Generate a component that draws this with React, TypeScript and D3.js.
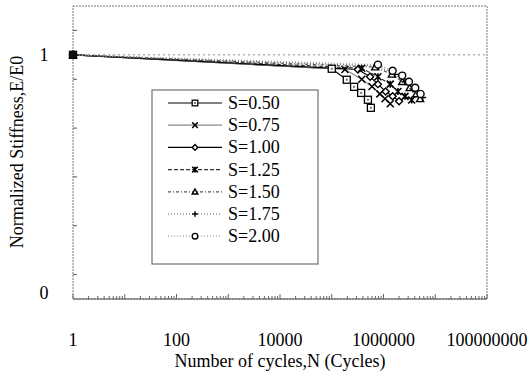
import { useEffect, useRef } from 'react';
import * as d3 from 'd3';

// stress levels and read-off points (N cycles, E/E0)
const labels = ['S=0.50', 'S=0.75', 'S=1.00', 'S=1.25', 'S=1.50', 'S=1.75', 'S=2.00'];

const n050 = [1, 1.0e5, 1.95e5, 2.7e5, 3.7e5, 5.0e5, 5.7e5];
const e050 = [1, 0.943, 0.898, 0.869, 0.844, 0.816, 0.783];
const n075 = [1, 1.8e5, 3.8e5, 6.0e5, 8.5e5, 1.07e6, 1.35e6];
const e075 = [1, 0.94, 0.9, 0.87, 0.84, 0.82, 0.8];
const n100 = [1, 3.2e5, 5.5e5, 7.8e5, 1.1e6, 1.5e6, 2.0e6];
const e100 = [1, 0.94, 0.91, 0.88, 0.85, 0.83, 0.81];
const n125 = [1, 3.8e5, 7.8e5, 1.35e6, 1.9e6, 2.6e6, 3.5e6];
const e125 = [1, 0.945, 0.91, 0.88, 0.85, 0.83, 0.815];
const n150 = [1, 6.9e5, 1.45e6, 2.3e6, 3.2e6, 4.3e6, 5.1e6];
const e150 = [1, 0.95, 0.92, 0.89, 0.865, 0.84, 0.82];
const n175 = [1, 7.8e5, 1.65e6, 2.6e6, 3.7e6, 4.9e6, 5.7e6];
const e175 = [1, 0.955, 0.92, 0.89, 0.86, 0.84, 0.825];
const n200 = [1, 7.8e5, 1.5e6, 2.3e6, 3.1e6, 4.1e6, 5.2e6];
const e200 = [1, 0.96, 0.935, 0.915, 0.89, 0.865, 0.84];

const xTicks = [1, 100, 10000, 1000000, 100000000];
const yTicks = [0, 1];

const seriesN = [n050, n075, n100, n125, n150, n175, n200];
const seriesE = [e050, e075, e100, e125, e150, e175, e200];
const markers = ['square', 'x', 'diamond', 'asterisk', 'triangle', 'plus', 'circle'];
const strokes = ['#000', '#888', '#000', '#333', '#555', '#666', '#999'];
const dashes = ['', '', '', '4,2', '3,2,1,2', '1,2', '1,2'];

const FONT = 'Liberation Serif, DejaVu Serif, serif';

function drawMarker(g: any, kind: string, x: number, y: number, s = 3.2) {
  if (kind === 'square') {
    g.append('rect').attr('x', x - s).attr('y', y - s).attr('width', 2 * s).attr('height', 2 * s)
      .attr('fill', '#fff').attr('stroke', '#000').attr('stroke-width', 1.3);
    g.append('rect').attr('x', x - 1).attr('y', y - 1).attr('width', 2).attr('height', 2).attr('fill', '#777');
  } else if (kind === 'x') {
    g.append('path').attr('d', `M${x - s},${y - s}L${x + s},${y + s}M${x - s},${y + s}L${x + s},${y - s}`)
      .attr('stroke', '#000').attr('stroke-width', 1.5);
  } else if (kind === 'diamond') {
    g.append('path').attr('d', `M${x},${y - s}L${x + s},${y}L${x},${y + s}L${x - s},${y}Z`)
      .attr('fill', '#fff').attr('stroke', '#000').attr('stroke-width', 1.4);
  } else if (kind === 'asterisk') {
    g.append('path').attr('d', `M${x - s},${y - s}L${x + s},${y + s}M${x - s},${y + s}L${x + s},${y - s}M${x},${y - s}L${x},${y + s}`)
      .attr('stroke', '#000').attr('stroke-width', 1.6);
  } else if (kind === 'triangle') {
    g.append('path').attr('d', `M${x},${y - s}L${x + s},${y + s * 0.8}L${x - s},${y + s * 0.8}Z`)
      .attr('fill', '#fff').attr('stroke', '#000').attr('stroke-width', 1.4);
  } else if (kind === 'plus') {
    g.append('path').attr('d', `M${x - s},${y}L${x + s},${y}M${x},${y - s}L${x},${y + s}`)
      .attr('stroke', '#000').attr('stroke-width', 1.4);
  } else {
    g.append('circle').attr('cx', x).attr('cy', y).attr('r', s)
      .attr('fill', '#fff').attr('stroke', '#000').attr('stroke-width', 1.4);
  }
}

export default function App() {
  const svgRef = useRef<SVGSVGElement>(null);

  useEffect(() => {
    const width = 531;
    const height = 383;
    const svg = d3.select(svgRef.current);
    svg.selectAll('*').remove();
    svg.attr('width', width).attr('height', height);

    const x = d3.scaleLog().domain([1, 1e8]).range([73, 487]);
    const y = d3.scaleLinear().domain([0, 1.2]).range([299, 6]);
    const [x0, x1] = x.range();
    const [y0, y1] = y.range();

    // plot frame, dotted like the original
    svg.append('rect').attr('x', x0).attr('y', y1).attr('width', x1 - x0).attr('height', y0 - y1)
      .attr('fill', 'none').attr('stroke', '#777').attr('stroke-width', 1).attr('stroke-dasharray', '2,1');
    svg.append('line').attr('x1', x0).attr('x2', x1).attr('y1', y0).attr('y2', y0)
      .attr('stroke', '#555').attr('stroke-width', 1);

    // gridline at 1
    svg.append('line').attr('x1', x0).attr('x2', x1).attr('y1', y(1)).attr('y2', y(1))
      .attr('stroke', '#888').attr('stroke-dasharray', '2,3');

    // y minor ticks
    const yMinor = d3.range(0.1, 1.15, 0.2);
    svg.selectAll('.ym').data(yMinor).join('line')
      .attr('x1', x0).attr('x2', x0 + 4).attr('y1', (d) => y(d)).attr('y2', (d) => y(d))
      .attr('stroke', '#555');

    // x log ticks
    const xMinor: number[] = [];
    for (let p = 0; p < 8; p++) for (let k = 1; k <= 9; k++) xMinor.push(k * Math.pow(10, p));
    xMinor.push(1e8);
    svg.selectAll('.xm').data(xMinor).join('line')
      .attr('x1', (d) => x(d)).attr('x2', (d) => x(d))
      .attr('y1', y0).attr('y2', (d) => (Math.log10(d) % 1 === 0 ? y0 - 5 : y0 - 3))
      .attr('stroke', '#666');

    svg.selectAll('.xl').data(xTicks).join('text')
      .attr('x', (d) => x(d)).attr('y', 346).attr('text-anchor', 'middle')
      .style('font-family', FONT).style('font-size', '18px').text((d) => String(d));

    svg.selectAll('.yl').data(yTicks).join('text')
      .attr('x', 44).attr('y', (d) => y(d) + (d === 0 ? 0 : 6)).attr('text-anchor', 'middle')
      .style('font-family', FONT).style('font-size', '18px').text((d) => String(d));

    svg.append('text').attr('x', 280).attr('y', 367).attr('text-anchor', 'middle')
      .style('font-family', FONT).style('font-size', '18px').text('Number of cycles,N (Cycles)');
    svg.append('text').attr('transform', 'translate(23,152) rotate(-90)').attr('text-anchor', 'middle')
      .style('font-family', FONT).style('font-size', '18px').text('Normalized Stiffness,E/E0');

    // series
    const line = d3.line<[number, number]>().x((d) => x(d[0])).y((d) => y(d[1]));
    seriesN.forEach((ns, i) => {
      const pts: [number, number][] = ns.map((n, j) => [n, seriesE[i][j]]);
      svg.append('path').attr('d', line(pts)).attr('fill', 'none')
        .attr('stroke', strokes[i]).attr('stroke-width', 1.2)
        .attr('stroke-dasharray', dashes[i] || null);
    });
    seriesN.forEach((ns, i) => {
      const g = svg.append('g');
      ns.forEach((n, j) => drawMarker(g, markers[i], x(n), y(seriesE[i][j]), 3.5));
    });
    // start point drawn dark where all series overlap
    svg.append('rect').attr('x', x(1) - 3.5).attr('y', y(1) - 3.5).attr('width', 7).attr('height', 7).attr('fill', '#111');

    // legend
    const lg = svg.append('g');
    lg.append('rect').attr('x', 152).attr('y', 90).attr('width', 166).attr('height', 174)
      .attr('fill', '#fff').attr('stroke', '#555').attr('stroke-width', 1);
    labels.forEach((lab, i) => {
      const ry = 103 + i * 22.2;
      lg.append('line').attr('x1', 168).attr('x2', 222).attr('y1', ry).attr('y2', ry)
        .attr('stroke', strokes[i]).attr('stroke-width', 1.2).attr('stroke-dasharray', dashes[i] || null);
      drawMarker(lg, markers[i], 195, ry, 2.8);
      lg.append('text').attr('x', 228).attr('y', ry + 6)
        .style('font-family', FONT).style('font-size', '18px').text(lab);
    });
  }, []);

  return <svg ref={svgRef} style={{ position: 'absolute', left: 0, top: 0 }} />;
}
